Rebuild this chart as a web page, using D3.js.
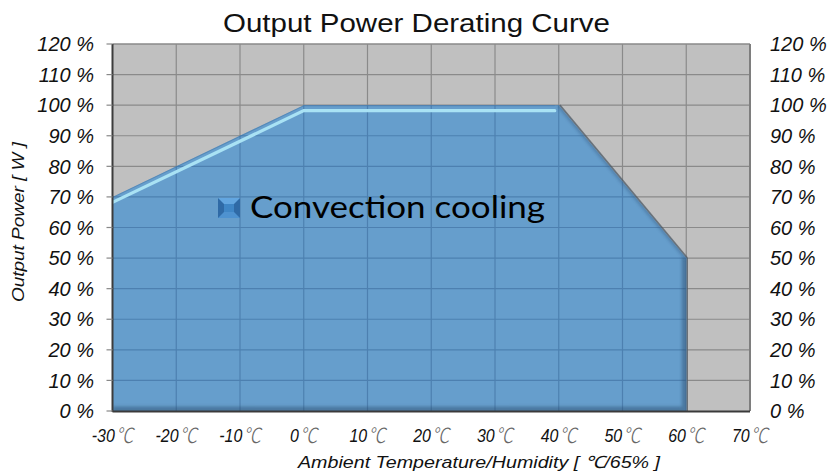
<!DOCTYPE html>
<html><head><meta charset="utf-8">
<script src="https://cdn.jsdelivr.net/npm/d3@7"></script>
<style>body{margin:0;background:#fff}svg{display:block}</style>
</head><body>
<script>
const temps = [-30, 0, 40, 60];
const power = [70, 100, 100, 50];
const xTicks = [-30, -20, -10, 0, 10, 20, 30, 40, 50, 60, 70];
const yTicks = [0, 10, 20, 30, 40, 50, 60, 70, 80, 90, 100, 110, 120];
const title = "Output Power Derating Curve";
const seriesName = "Convection cooling";
const xTitle = "Ambient Temperature/Humidity [ \u2103/65% ]";
const yTitle = "Output Power [ W ]";

const W = 830, H = 474;
const L = 112.5, R = 750, T = 44, B = 411;
const x = d3.scaleLinear().domain([-30, 70]).range([L, R]);
const y = d3.scaleLinear().domain([0, 120]).range([B, T]);
const pts = temps.map((t, i) => ({t, p: power[i]}));

const svg = d3.select("body").append("svg").attr("width", W).attr("height", H);
const defs = svg.append("defs");
const blur = defs.append("filter").attr("id", "blur").attr("x", "-10%").attr("y", "-10%").attr("width", "120%").attr("height", "120%");
blur.append("feGaussianBlur").attr("stdDeviation", 1.6);
const blur2 = defs.append("filter").attr("id", "blur2");
blur2.append("feGaussianBlur").attr("stdDeviation", 0.7);

const area = d3.area().x(d => x(d.t)).y0(y(0)).y1(d => y(d.p));
defs.append("clipPath").attr("id", "areaClip").append("path").attr("d", area(pts));

// plot background
svg.append("rect").attr("x", L).attr("y", T).attr("width", R - L).attr("height", B - T).attr("fill", "#c0c0c0");

function grid(g, color) {
  g.selectAll("line.v").data(xTicks.slice(1, -1)).join("line").attr("class", "v")
    .attr("x1", d => x(d)).attr("x2", d => x(d)).attr("y1", T).attr("y2", B)
    .attr("stroke", color).attr("stroke-width", 1.2);
  g.selectAll("line.h").data(yTicks.slice(1, -1)).join("line").attr("class", "h")
    .attr("x1", L).attr("x2", R).attr("y1", d => y(d)).attr("y2", d => y(d))
    .attr("stroke", color).attr("stroke-width", 1.2);
}
grid(svg.append("g"), "#8a8a8a");

// border top/right
svg.append("line").attr("x1", L).attr("x2", R).attr("y1", T).attr("y2", T).attr("stroke", "#8a8a8a").attr("stroke-width", 1.5);
svg.append("line").attr("x1", R).attr("x2", R).attr("y1", T).attr("y2", B).attr("stroke", "#7e7e7e").attr("stroke-width", 2);

// slope outer shadow
const slopePts = pts.slice(2);
svg.append("path").attr("d", d3.line().x(d => x(d.t)).y(d => y(d.p))(slopePts))
  .attr("fill", "none").attr("stroke", "#4e5a66").attr("stroke-width", 2).attr("opacity", 0.75)
  .attr("transform", "translate(1,0)").attr("filter", "url(#blur2)");
svg.append("line").attr("x1", x(60) + 1).attr("x2", x(60) + 1).attr("y1", y(50)).attr("y2", B)
  .attr("stroke", "#555d66").attr("stroke-width", 1.5).attr("opacity", 0.8);

// area
svg.append("path").attr("d", area(pts)).attr("fill", "#669ecc");

// grid inside area
const gIn = svg.append("g").attr("clip-path", "url(#areaClip)");
grid(gIn, "#4d80b0");

// inner shadow on right and bottom edges
const edgePts = [{t: 60, p: 50}, {t: 60, p: 0}, {t: -30, p: 0}];
gIn.append("path").attr("d", d3.line().x(d => x(d.t)).y(d => y(d.p))(edgePts))
  .attr("fill", "none").attr("stroke", "#2c4c6c").attr("stroke-width", 9).attr("opacity", 0.45)
  .attr("filter", "url(#blur)");
gIn.append("path").attr("d", d3.line().x(d => x(d.t)).y(d => y(d.p))(slopePts))
  .attr("fill", "none").attr("stroke", "#3a5f85").attr("stroke-width", 4).attr("opacity", 0.45)
  .attr("filter", "url(#blur)");
// top highlight
const topPts = pts.slice(0, 3);
const hl = d3.line().x((d, i) => x(d.t) + (i === 2 ? -4 : 0)).y(d => y(d.p));
gIn.append("path").attr("d", hl(topPts)).attr("fill", "none")
  .attr("stroke", "#3f74a6").attr("stroke-width", 2).attr("opacity", 0.5);
gIn.append("path").attr("d", hl(topPts)).attr("fill", "none")
  .attr("stroke", "#a9e2f4").attr("stroke-width", 3.2).attr("stroke-linecap", "round")
  .attr("transform", "translate(0,5.5)").attr("filter", "url(#blur2)");

// axes lines
svg.append("line").attr("x1", L).attr("x2", L).attr("y1", T).attr("y2", B + 1)
  .attr("stroke", "#3c3c3c").attr("stroke-width", 2);
svg.append("line").attr("x1", L).attr("x2", R).attr("y1", B + 0.5).attr("y2", B + 0.5)
  .attr("stroke", "#3a3a3a").attr("stroke-width", 2);

// left ticks
svg.append("g").selectAll("line").data(yTicks).join("line")
  .attr("x1", L - 6).attr("x2", L).attr("y1", d => y(d)).attr("y2", d => y(d))
  .attr("stroke", "#888").attr("stroke-width", 1.2);

// y labels
const lblFont = "'Liberation Sans', Arial, sans-serif";
svg.append("g").selectAll("text").data(yTicks).join("text")
  .attr("x", 94).attr("y", d => y(d)).attr("dy", "0.36em").attr("text-anchor", "end")
  .attr("font-family", lblFont).attr("font-style", "italic").attr("font-size", 20).attr("fill", "#111")
  .text(d => d + " %");
svg.append("g").selectAll("text").data(yTicks).join("text")
  .attr("x", 770).attr("y", d => y(d)).attr("dy", "0.36em").attr("text-anchor", "start")
  .attr("font-family", lblFont).attr("font-style", "italic").attr("font-size", 20).attr("fill", "#111")
  .text(d => d + " %");

// x labels
const xl = svg.append("g").selectAll("g").data(xTicks).join("g")
  .attr("transform", d => `translate(${x(d)},442) scale(0.84,1)`);
const xt = xl.append("text").attr("text-anchor", "middle")
  .attr("font-family", lblFont).attr("font-style", "italic").attr("font-size", 19).attr("fill", "#111");
xt.append("tspan").text(d => d);
xt.append("tspan").attr("font-family", "'Noto Sans CJK SC'").attr("font-weight", 300)
  .attr("fill", "#666").attr("font-size", 21).attr("dx", 1).attr("dy", 1).text("\u2103");

// title
svg.append("text").attr("x", 416.5).attr("y", 32).attr("text-anchor", "middle")
  .attr("font-family", lblFont).attr("font-size", 25).attr("fill", "#111")
  .attr("textLength", 387).attr("lengthAdjust", "spacingAndGlyphs").text(title);

// axis titles
svg.append("text").attr("x", 479).attr("y", 468).attr("text-anchor", "middle")
  .attr("font-family", lblFont).attr("font-style", "italic").attr("font-size", 17).attr("fill", "#111")
  .attr("textLength", 362).attr("lengthAdjust", "spacingAndGlyphs").text(xTitle);
svg.append("text").attr("transform", "translate(24,222) rotate(-90)").attr("text-anchor", "middle")
  .attr("font-family", lblFont).attr("font-style", "italic").attr("font-size", 16).attr("fill", "#111")
  .attr("textLength", 160).attr("lengthAdjust", "spacingAndGlyphs").text(yTitle);

// legend
const lg = svg.append("g").attr("transform", "translate(218,198)");
lg.append("rect").attr("width", 22).attr("height", 20).attr("fill", "#2f6aa6");
lg.append("path").attr("d", "M0,0H22L16,6H6Z").attr("fill", "#63a6e0");
lg.append("path").attr("d", "M0,20H22L16,14H6Z").attr("fill", "#4e92d0");
lg.append("rect").attr("x", 6).attr("y", 6).attr("width", 10).attr("height", 8).attr("fill", "#3f86c6");
svg.append("text").attr("x", 250).attr("y", 218)
  .attr("font-family", "Lato, 'Open Sans', sans-serif").attr("font-size", 30).attr("fill", "#000")
  .attr("textLength", 295).attr("lengthAdjust", "spacingAndGlyphs").text(seriesName);
</script>
</body></html>
